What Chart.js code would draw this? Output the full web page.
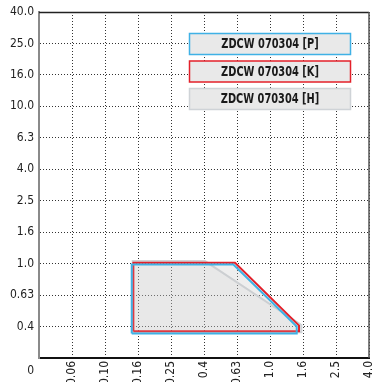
<!DOCTYPE html>
<html>
<head>
<meta charset="utf-8">
<script src="https://cdn.jsdelivr.net/npm/chart.js@4/dist/chart.umd.min.js"></script>
<style>
html, body { margin: 0; padding: 0; background: #fff; }
#wrap { width: 374px; height: 382px; }
</style>
</head>
<body>
<div id="wrap"><canvas id="chart_canvas"></canvas></div>
<script>
// tick labels (axes are evenly spaced steps)
var xLabels = ['0', '0.06', '0.10', '0.16', '0.25', '0.4', '0.63', '1.0', '1.6', '2.5', '4.0'];
var yLabels = ['0', '0.4', '0.63', '1.0', '1.6', '2.5', '4.0', '6.3', '10.0', '16.0', '25.0', '40.0'];

var seriesNames = ['ZDCW 070304 [P]', 'ZDCW 070304 [K]', 'ZDCW 070304 [H]'];
var seriesColors = ['#3fb1e5', '#e3202a', '#cfd3d7'];

// polygon corners, in axis steps
var pX = [2.81, 2.81, 5.89, 7.81, 7.81, 2.81];
var pY = [0.78, 2.97, 2.97, 1.00, 0.78, 0.78];
var kX = [2.86, 2.86, 5.94, 7.88, 7.88, 2.86];
var kY = [0.85, 3.03, 3.03, 1.03, 0.85, 0.85];
var hX = [2.84, 2.84, 5.03, 7.95, 7.95, 2.84];
var hY = [0.82, 3.08, 3.08, 1.05, 0.82, 0.82];

var FONT = '"Liberation Sans Narrow", "DejaVu Sans Condensed", sans-serif';

function points(xs, ys){
    var out = [];
    for (var i = 0; i < xs.length; i++){
        out.push({x: xs[i], y: ys[i]});
    }
    return out;
}

function make_set(idx, xs, ys){
    return {
        label: seriesNames[idx],
        data: points(xs, ys),
        showLine: true,
        borderColor: seriesColors[idx],
        borderWidth: 2,
        backgroundColor: 'rgba(200,200,200,0.16)',
        fill: 'shape',
        pointRadius: 0,
        tension: 0
    };
}

var boxPlugin = {
    id: 'boxes',
    afterDatasetsDraw: function(chart){
        var ctx = chart.ctx;
        var a = chart.chartArea;
        ctx.save();
        // top and right frame
        ctx.strokeStyle = '#222';
        ctx.lineWidth = 1.5;
        ctx.beginPath();
        ctx.moveTo(a.left, a.top + 0.5);
        ctx.lineTo(a.right, a.top + 0.5);
        ctx.stroke();
        ctx.strokeStyle = '#555';
        ctx.beginPath();
        ctx.moveTo(a.right, a.top);
        ctx.lineTo(a.right, a.bottom);
        ctx.stroke();
        ctx.restore();
    },
    afterDraw: function(chart){
        var ctx = chart.ctx;
        ctx.save();
        // legend boxes
        for (var i = 0; i < seriesNames.length; i++){
            var y = 33.5 + i * 27.5;
            ctx.fillStyle = '#e9e9e9';
            ctx.fillRect(189.5, y, 161, 21);
            ctx.strokeStyle = seriesColors[i];
            ctx.lineWidth = 1.5;
            ctx.strokeRect(189.5, y, 161, 21);
            ctx.save();
            ctx.translate(270, y + 11);
            ctx.scale(0.78, 1);
            ctx.fillStyle = '#1a1a1a';
            ctx.font = 'bold 14px ' + FONT;
            ctx.textAlign = 'center';
            ctx.textBaseline = 'middle';
            ctx.fillText(seriesNames[i], 0, 0);
            ctx.restore();
        }
        // zero label of the y axis, sits below the corner
        ctx.font = '12px ' + FONT;
        ctx.fillStyle = '#222';
        ctx.textAlign = 'right';
        ctx.textBaseline = 'middle';
        ctx.fillText(yLabels[0], 34, 371);
        ctx.restore();
    }
};

function init_chart(){
    var ctx = document.getElementById('chart_canvas').getContext('2d');
    new Chart(ctx, {
        type: 'scatter',
        data: {
            datasets: [
                make_set(0, pX, pY),
                make_set(1, kX, kY),
                make_set(2, hX, hY)
            ]
        },
        options: {
            responsive: true,
            maintainAspectRatio: false,
            animation: false,
            layout: { padding: { top: 12, right: 5, left: 0, bottom: 0 } },
            plugins: {
                legend: { display: false },
                tooltip: { enabled: false }
            },
            scales: {
                x: {
                    type: 'linear',
                    min: 0,
                    max: 10,
                    afterFit: function(s){
                        s.height = 24;
                        s.paddingLeft = 0;
                        s.paddingRight = 0;
                    },
                    ticks: {
                        stepSize: 1,
                        autoSkip: false,
                        minRotation: 90,
                        maxRotation: 90,
                        padding: 3,
                        color: '#222',
                        font: { family: FONT, size: 12 },
                        callback: function(v){ return v === 0 ? '' : xLabels[v]; }
                    },
                    grid: { color: '#333', lineWidth: 1, drawTicks: false },
                    border: { color: '#111', width: 2, dash: [1, 2] }
                },
                y: {
                    type: 'linear',
                    min: 0,
                    max: 11,
                    afterFit: function(s){
                        s.width = 39;
                        s.paddingTop = 0;
                        s.paddingBottom = 0;
                    },
                    ticks: {
                        stepSize: 1,
                        autoSkip: false,
                        padding: 5,
                        color: '#222',
                        font: { family: FONT, size: 12 },
                        callback: function(v){ return v === 0 ? '' : yLabels[v]; }
                    },
                    grid: { color: '#333', lineWidth: 1, drawTicks: false },
                    border: { color: '#8a8a8a', width: 2, dash: [1, 2] }
                }
            }
        },
        plugins: [boxPlugin]
    });
}

init_chart();
</script>
</body>
</html>
